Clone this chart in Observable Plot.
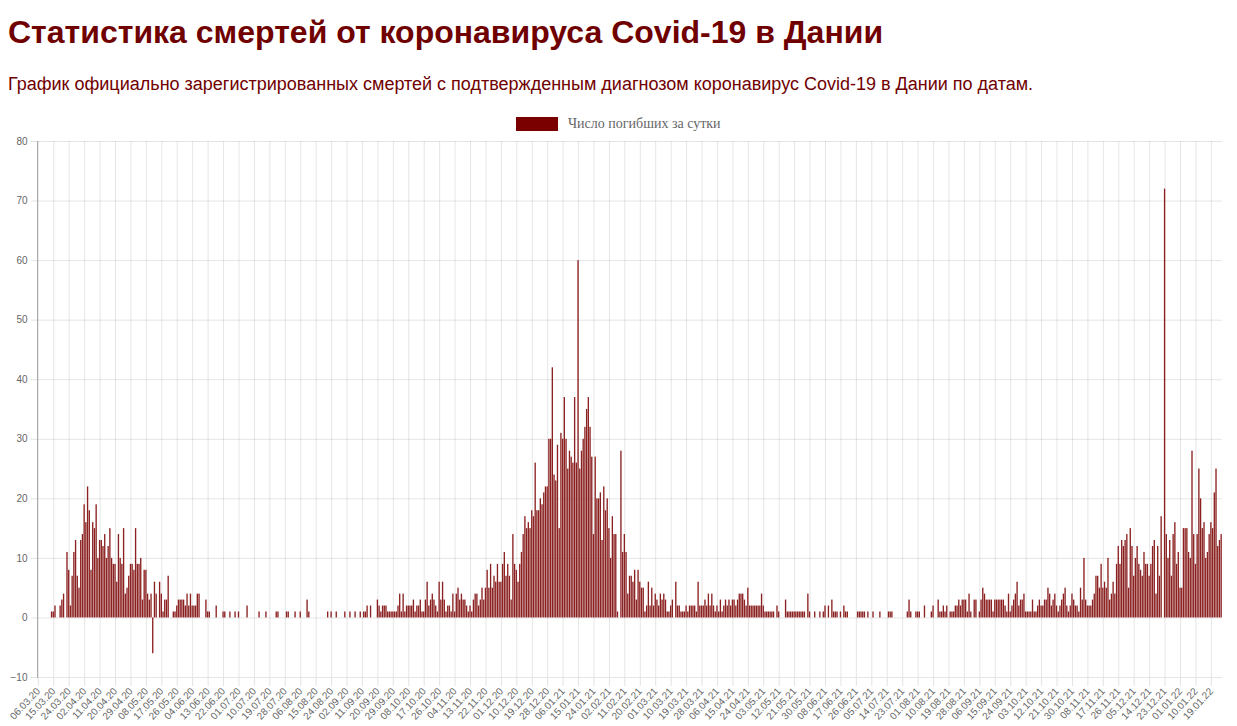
<!DOCTYPE html>
<html><head><meta charset="utf-8">
<script src="https://cdn.jsdelivr.net/npm/d3@7"></script>
<script src="https://cdn.jsdelivr.net/npm/@observablehq/plot@0.6"></script>
<style>
body{margin:0;background:#fff;width:1237px;height:726px;overflow:hidden;position:relative;font-family:"Liberation Sans",Arial,sans-serif;}
#title{position:absolute;left:8px;top:13px;font-size:32px;font-weight:bold;color:#700000;white-space:nowrap;line-height:38px}
#subtitle{position:absolute;left:8px;top:73px;font-size:18px;color:#700000;white-space:nowrap;line-height:22px}
#legend{position:absolute;left:516px;top:117px;display:flex;align-items:center;font-family:"Liberation Serif","Times New Roman",serif;font-size:14px;color:#666;line-height:14px}
#legend .sw{width:42px;height:14px;background:#7a0000;margin-right:10px}
#chart{position:absolute;left:0;top:130px}
</style></head><body>
<div id="title">Статистика смертей от коронавируса Covid-19 в Дании</div>
<div id="subtitle">График официально зарегистрированных смертей с подтвержденным диагнозом коронавирус Covid-19 в Дании по датам.</div>
<div id="legend"><div class="sw"></div><span>Число погибших за сутки</span></div>
<div id="chart"></div>
<script>
// Daily deaths, 06.03.20 ... 25.01.22 (one value per day)
const spring2020 = [
0,0,0,0,0,0,0,0,1,1,
2,0,0,2,3,4,0,11,8,2,
7,11,13,7,5,13,14,19,16,22,
18,8,16,15,19,10,13,13,12,14,
10,12,15,10,9,9,6,14,10,9,
15,4,5,7,9,9,8,15,9,9,
10,3,8,8,4,3,4,-6,6,4,
0,6,4,1,3,3,7,0,0,1,
1,2,3,3,3,3,2,4,2,4,
2,2,2,4,4,0,0,0,3,1];
const summer2020 = [
1,0,0,0,2,0,0,0,1,1,
0,0,1,0,0,1,0,1,0,0,
0,0,2,0,0,0,0,0,0,1,
0,0,0,1,0,0,0,0,0,1,
1,0,0,0,0,1,1,0,0,0,
1,0,0,1,0,0,0,3,1,0,
0,0,0,0,0,0,0,0,0,1,
0,1,0,0,1,0,0,0,0,1,
0,0,1,0,0,1,0,0,1,0,
1,1,2,0,2,0,0,0,3,2];
const autumn2020 = [
1,2,2,2,1,1,1,1,1,1,
2,4,1,4,1,2,2,2,2,3,
1,2,2,3,1,1,3,6,2,3,
4,3,2,1,6,3,6,3,1,2,
2,1,4,1,4,5,3,4,3,3,
2,1,2,1,3,4,4,2,3,5,
3,5,8,5,9,5,7,6,9,6,
6,9,11,7,9,7,3,14,9,8,
6,9,11,14,17,15,16,15,18,17,
26,18,18,20,19,21,22,22,30,30];
const winter2021 = [
42,24,23,29,15,31,30,37,30,25,
28,27,26,37,26,60,25,28,30,32,
35,37,32,27,14,27,20,20,21,13,
22,18,20,15,10,17,14,14,1,0,
28,11,14,11,4,7,7,6,8,3,
8,6,5,5,1,2,6,2,5,2,
4,3,2,4,3,4,3,1,1,2,
3,0,6,2,2,1,1,1,2,1,
2,2,2,2,1,6,2,2,2,3,
2,4,2,4,2,1,2,1,3,1];
const spring2021 = [
2,3,2,3,2,3,3,2,3,4,
4,4,3,2,5,2,2,2,2,2,
2,2,4,2,1,1,1,1,1,1,
0,2,1,0,0,0,3,1,1,1,
1,1,1,1,1,1,1,1,0,4,
1,0,0,1,0,0,1,0,1,2,
0,2,0,3,1,1,1,0,1,0,
2,1,1,0,0,0,0,0,1,1,
1,1,1,0,1,0,0,1,0,0,
0,1,0,0,0,0,1,1,1,0];
const summer2021 = [
0,0,0,0,0,0,0,1,3,1,
0,0,1,1,1,0,0,2,0,0,
0,1,2,0,0,3,1,1,2,1,
2,0,1,1,1,2,2,3,2,3,
3,3,1,4,1,0,3,3,0,1,
3,5,4,3,3,3,3,1,3,3,
3,3,3,3,2,1,4,1,2,3,
4,6,2,3,3,4,1,1,1,1,
3,1,1,2,3,2,2,3,3,5,
4,2,3,4,2,1,2,3,4,5];
const winter2122 = [
2,1,2,4,3,2,2,1,5,3,
10,3,2,2,2,3,4,7,7,5,
9,5,6,5,10,3,4,6,4,9,
12,9,13,12,13,14,5,15,12,7,
10,12,9,8,7,11,9,9,7,9,
12,13,4,12,7,17,0,72,14,10,
13,7,14,16,9,11,5,5,15,15,
15,11,10,28,14,9,14,25,20,15,
16,10,11,14,16,15,21,25,12,13,
14];

const tickLabels = ["06.03.20","15.03.20","24.03.20","02.04.20","11.04.20","20.04.20","29.04.20","08.05.20","17.05.20","26.05.20","04.06.20","13.06.20","22.06.20","01.07.20","10.07.20","19.07.20","28.07.20","06.08.20","15.08.20","24.08.20","02.09.20","11.09.20","20.09.20","29.09.20","08.10.20","17.10.20","26.10.20","04.11.20","13.11.20","22.11.20","01.12.20","10.12.20","19.12.20","28.12.20","06.01.21","15.01.21","24.01.21","02.02.21","11.02.21","20.02.21","01.03.21","10.03.21","19.03.21","28.03.21","06.04.21","15.04.21","24.04.21","03.05.21","12.05.21","21.05.21","30.05.21","08.06.21","17.06.21","26.06.21","05.07.21","14.07.21","23.07.21","01.08.21","10.08.21","19.08.21","28.08.21","06.09.21","15.09.21","24.09.21","03.10.21","12.10.21","21.10.21","30.10.21","08.11.21","17.11.21","26.11.21","05.12.21","14.12.21","23.12.21","01.01.22","10.01.22","19.01.22"];
const yTicks = [-10,0,10,20,30,40,50,60,70,80];

const deaths = [].concat(spring2020, summer2020, autumn2020, winter2021, spring2021, summer2021, winter2122);
const fmt = d3.utcFormat("%d.%m.%y");
const days = d3.utcDay.range(new Date(Date.UTC(2020,2,6)), new Date(Date.UTC(2022,0,26)));
const dates = days.map(fmt);
const data = dates.map((d,i) => ({date: d, value: deaths[i] ?? 0}));

const sans = "'Liberation Sans',Arial,sans-serif";
const chart = Plot.plot({
  width: 1237, height: 596,
  marginLeft: 37, marginRight: 15, marginTop: 11, marginBottom: 49,
  style: {background: "transparent", fontFamily: sans},
  x: {type: "band", domain: dates, paddingInner: 0.22, paddingOuter: 0.1},
  y: {domain: [-10, 80]},
  marks: [
    Plot.gridY(yTicks, {stroke: "#000", strokeOpacity: 0.1}),
    Plot.gridX(tickLabels, {stroke: "#000", strokeOpacity: 0.1}),
    Plot.axisY(yTicks, {tickSize: 6, tickPadding: 4, stroke: "#e3e3e3", fill: "#666", fontSize: 10, label: null}),
    Plot.axisX(tickLabels, {tickSize: 9, tickPadding: 3, tickRotate: -47, stroke: "#e3e3e3", fill: "#666", fontSize: 10, label: null}),
    Plot.frame({anchor: "left", stroke: "#aaa"}),
    Plot.barY(data, {x: "date", y: "value", fill: "#8b2020"})
  ]
});
document.getElementById("chart").appendChild(chart);
</script>
</body></html>
